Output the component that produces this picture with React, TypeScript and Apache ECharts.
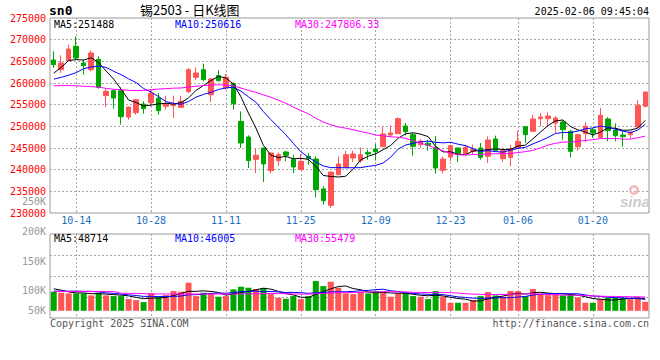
import React, { useEffect, useRef } from "react";
import * as echarts from "echarts";

const dates = [
  "10-09","10-10","10-11","10-14","10-15","10-16","10-17","10-18","10-21","10-22","10-23","10-24","10-25","10-28","10-29","10-30","10-31",
  "11-01","11-04","11-05","11-06","11-07","11-08","11-11","11-12","11-13","11-14","11-15","11-18","11-19","11-20","11-21","11-22","11-25","11-26","11-27","11-28","11-29",
  "12-02","12-03","12-04","12-05","12-06","12-09","12-10","12-11","12-12","12-13","12-16","12-17","12-18","12-19","12-20","12-23","12-24","12-25","12-26","12-27","12-30","12-31",
  "01-02","01-03","01-06","01-07","01-08","01-09","01-10","01-13","01-14","01-15","01-16","01-17","01-20","01-21","01-22","01-23","01-24","01-27",
  "02-05","02-06",
];
const tickDates = ["10-14", "10-28", "11-11", "11-25", "12-09", "12-23", "01-06", "01-20"];

const openP = [
  265310,263080,265150,268460,264620,263080,265460,257080,258230,258230,
  252150,253150,255150,255460,256540,254620,254770,254380,258000,261310,
  263080,257310,261690,258850,259850,251150,247540,242380,245000,239770,
  242080,244080,242310,240000,243080,242460,235540,231770,238850,240540,
  242690,242080,244000,244770,245310,248000,248310,250080,248080,245770,
  246080,245150,239850,242920,245000,243620,244230,245000,243080,247080,
  242540,242850,245000,249920,248850,251770,251770,250770,251000,248850,
  245310,248310,249230,247460,251690,249150,248000,248080,249850,254620,
];
const closeP = [
  264230,264620,267850,265770,264000,266920,259000,258080,256540,252230,
  254460,256150,254080,257620,253620,255150,255150,255770,263080,262310,
  260770,260920,260540,261310,255230,246150,242080,243310,241310,243850,
  243460,243310,240620,241920,242540,235380,232850,239460,241310,243460,
  243620,243460,243620,244150,248230,248460,251770,248770,245380,246620,
  245620,240380,242460,245540,243770,245150,244620,242850,246850,244460,
  244460,244850,246540,248080,251690,252150,252380,251920,249230,244230,
  248080,250000,248460,252540,249000,247850,247620,248620,254850,257920,
];
const lowP = [
  263460,262310,265000,265380,261920,262690,258690,254460,254080,250380,
  251540,252690,252920,254620,252690,253850,251920,254230,257690,260770,
  260380,255620,260380,258460,253850,245000,240380,239230,237150,239150,
  240920,241920,239230,240000,241150,233620,231920,231150,238690,240380,
  241770,241540,242310,242080,245310,247540,248230,247920,243230,245000,
  244380,239080,239150,241920,241770,243310,243460,242310,241540,244230,
  241770,240770,244850,246150,248850,250000,249850,248460,246920,242850,
  244380,246380,247310,247310,246540,246540,245310,247150,249620,254380,
];
const highP = [
  267310,266390,268850,270770,265380,267540,266150,258620,258620,259000,
  254460,256150,255770,258460,257690,257080,257080,257080,263460,263620,
  264460,261150,262920,262080,260150,253460,247920,244770,245000,243850,
  244000,244380,243460,243620,243850,243080,236150,239460,243080,244380,
  244380,245150,244620,245920,249920,250230,252080,250770,248460,247000,
  246850,247770,243000,245770,245000,245770,245770,246150,247690,247850,
  245000,245770,249000,249920,252690,253080,253230,252380,251380,249150,
  248080,251000,249620,254230,252080,250690,248850,248850,256080,257920,
];
const volume = [
  76700,72600,69900,69900,69900,61900,72600,61900,59200,59200,
  47100,43000,35000,71300,59200,63200,79400,76700,113000,59200,
  72600,67300,56500,59200,86100,96800,92800,87400,91500,67300,
  52500,48400,59200,47100,59200,119700,99500,117000,92800,69900,
  67300,76700,69900,79400,76700,56500,69900,69900,59200,56500,
  47100,79400,56500,32300,32300,32300,43000,59200,75300,61900,
  56500,79400,79400,59200,87400,67300,63200,67300,61900,67300,
  53800,32300,32300,47100,52500,52500,52500,47100,53800,36300,
];
// moving-average values before enough history is on the chart
const ma5Head = [262300, 263600, 265200, 265400];
const ma10Head = [260900, 261300, 261800, 262400, 263300, 263700, 263900, 263600, 262700];
const ma30Head = [
  259350,259400,259400,259350,259250,259150,259050,258750,258550,258450,
  258300,258250,258300,258450,258600,258700,258800,258850,259050,259250,
  259400,259500,259600,259500,259350,258850,258300,257850,257250,
];
const vma5Head = [88500, 83000, 76000, 72000];
const vma10Head = [79000, 79000, 79000, 79000, 78500, 78000, 76000, 72000, 70000];
const vma30Head = [
  77800,77800,77800,77800,77800,77800,77800,77800,77800,70500,
  70000,70000,69500,67500,67500,67500,67500,67500,67500,67500,
  67500,67500,67500,67500,67500,68000,68000,68500,68500,
];
const maLegend = ["MA5:251488", "MA10:250616", "MA30:247806.33"];
const volLegend = ["MA5:48714", "MA10:46005", "MA30:55479"];
const volTickLabels = ["250K", "200K", "150K", "100K", "50K"];
const titleText = "锡2503 - 日K线图";
const codeText = "sn0";
const timeText = "2025-02-06 09:45:04";
const copyText = "Copyright 2025 SINA.COM";
const urlText = "http://finance.sina.com.cn";

// layout / style
const MONO = '"DejaVu Sans Mono", "Liberation Mono", monospace';
const UP = "#ff5555";
const DOWN = "#00a600";
const MA_COLORS = ["#000000", "#0000ff", "#ff00ff"];
const GRID_LINE = { color: "#a8a8a8", type: [2, 2] as number[], width: 1 };
const volLabelY = [201, 231, 261, 290, 310];
const legendX = [54, 175, 295];

function movingAvg(values: number[], n: number, head: number[]) {
  return values.map((_, i) => {
    if (i < n - 1) return head[i];
    let s = 0;
    for (let k = i - n + 1; k <= i; k++) s += values[k];
    return Math.round((s / n) * 100) / 100;
  });
}

function txt(text: string, x: number, y: number, fill: string, font: string, align = "left") {
  return {
    type: "text",
    x,
    y,
    silent: true,
    z: 100,
    style: {
      text,
      fill,
      font,
      align,
      verticalAlign: "middle",
      textAlign: align,
      textVerticalAlign: "middle",
    },
  };
}

export default function App() {
  const ref = useRef<HTMLDivElement>(null);
  useEffect(() => {
    if (!ref.current) return;
    const chart = echarts.init(ref.current, undefined, { renderer: "svg" });
    const candles = dates.map((_, i) => [openP[i], closeP[i], lowP[i], highP[i]]);
    const volData = volume.map((v, i) => ({
      value: v,
      itemStyle: { color: closeP[i] >= openP[i] ? UP : DOWN },
    }));
    const isTick = (_i: number, v: string) => tickDates.includes(v);
    const xBase = {
      type: "category",
      data: dates,
      boundaryGap: true,
      axisLine: { show: false },
      axisTick: { show: false },
      splitLine: { show: true, interval: isTick, alignWithLabel: true, lineStyle: GRID_LINE },
    };
    const lineSeries = (name: string, data: number[], color: string, axis: number, yAxis: number) => ({
      name,
      type: "line",
      data,
      xAxisIndex: axis,
      yAxisIndex: yAxis,
      symbol: "none",
      showSymbol: false,
      lineStyle: { width: 1, color },
      itemStyle: { color },
      silent: true,
      z: 5,
    });
    const graphic: any[] = [
      txt(codeText, 49, 10, "#000", `bold 13px ${MONO}`),
      txt(titleText, 140, 9, "#000", '13px "Noto Sans CJK SC", sans-serif'),
      txt(timeText, 649, 11, "#000", `10px ${MONO}`, "right"),
      txt(copyText, 50, 323, "#555", `10px ${MONO}`),
      txt(urlText, 649, 323, "#555", `10px ${MONO}`, "right"),
      ...maLegend.map((t, i) => txt(t, legendX[i], 24.5, MA_COLORS[i], `10px ${MONO}`)),
      ...volLegend.map((t, i) => txt(t, legendX[i], 238, MA_COLORS[i], `10px ${MONO}`)),
      ...volTickLabels.map((t, i) => txt(t, 46, volLabelY[i], "#999", `10px ${MONO}`, "right")),
      {
        type: "ring",
        silent: true,
        z: 1,
        shape: { cx: 634, cy: 190, r: 5, r0: 2.5 },
        style: { fill: "#f3b8b8" },
      },
      txt("sina", 635, 201, "#cccccc", 'italic bold 15px "Liberation Sans", sans-serif', "center"),
    ];
    graphic[graphic.length - 1].z = 1;

    chart.setOption({
      animation: false,
      backgroundColor: "#ffffff",
      grid: [
        { left: 50, top: 18, width: 599, height: 195, show: true, borderColor: "#999", borderWidth: 1 },
        { left: 50, top: 234, width: 599, height: 84, show: true, borderColor: "#999", borderWidth: 1 },
      ],
      xAxis: [
        {
          ...xBase,
          gridIndex: 0,
          axisLabel: { interval: isTick, color: "#1a6fc0", fontFamily: MONO, fontSize: 10, margin: 2 },
        },
        { ...xBase, gridIndex: 1, axisLabel: { show: false } },
      ],
      yAxis: [
        {
          type: "value",
          gridIndex: 0,
          min: 230000,
          max: 275000,
          interval: 5000,
          axisLine: { show: false },
          axisTick: { show: false },
          axisLabel: {
            color: "#ff0000",
            fontFamily: MONO,
            fontSize: 10,
            margin: 4,
            formatter: (v: number) => String(v),
          },
          splitLine: { show: true, showMinLine: false, showMaxLine: false, lineStyle: GRID_LINE },
        },
        { type: "value", gridIndex: 1, min: -29000, max: 309000, show: false },
        {
          type: "value",
          gridIndex: 1,
          min: 0,
          max: 4,
          interval: 1,
          axisLine: { show: false },
          axisTick: { show: false },
          axisLabel: { show: false },
          splitLine: { show: true, showMinLine: false, showMaxLine: false, lineStyle: GRID_LINE },
        },
      ],
      series: [
        {
          type: "candlestick",
          data: candles,
          xAxisIndex: 0,
          yAxisIndex: 0,
          barWidth: 5,
          silent: true,
          itemStyle: { color: UP, color0: DOWN, borderColor: UP, borderColor0: DOWN, borderWidth: 1 },
        },
        lineSeries("MA5", movingAvg(closeP, 5, ma5Head), MA_COLORS[0], 0, 0),
        lineSeries("MA10", movingAvg(closeP, 10, ma10Head), MA_COLORS[1], 0, 0),
        lineSeries("MA30", movingAvg(closeP, 30, ma30Head), MA_COLORS[2], 0, 0),
        {
          type: "bar",
          data: volData,
          xAxisIndex: 1,
          yAxisIndex: 1,
          barWidth: 6,
          silent: true,
        },
        lineSeries("VMA5", movingAvg(volume, 5, vma5Head), MA_COLORS[0], 1, 1),
        lineSeries("VMA10", movingAvg(volume, 10, vma10Head), MA_COLORS[1], 1, 1),
        lineSeries("VMA30", movingAvg(volume, 30, vma30Head), MA_COLORS[2], 1, 1),
      ],
      graphic,
    });
    return () => chart.dispose();
  }, []);
  return (
    <div
      ref={ref}
      style={{ position: "absolute", left: 0, top: 0, width: 660, height: 360 }}
    />
  );
}
